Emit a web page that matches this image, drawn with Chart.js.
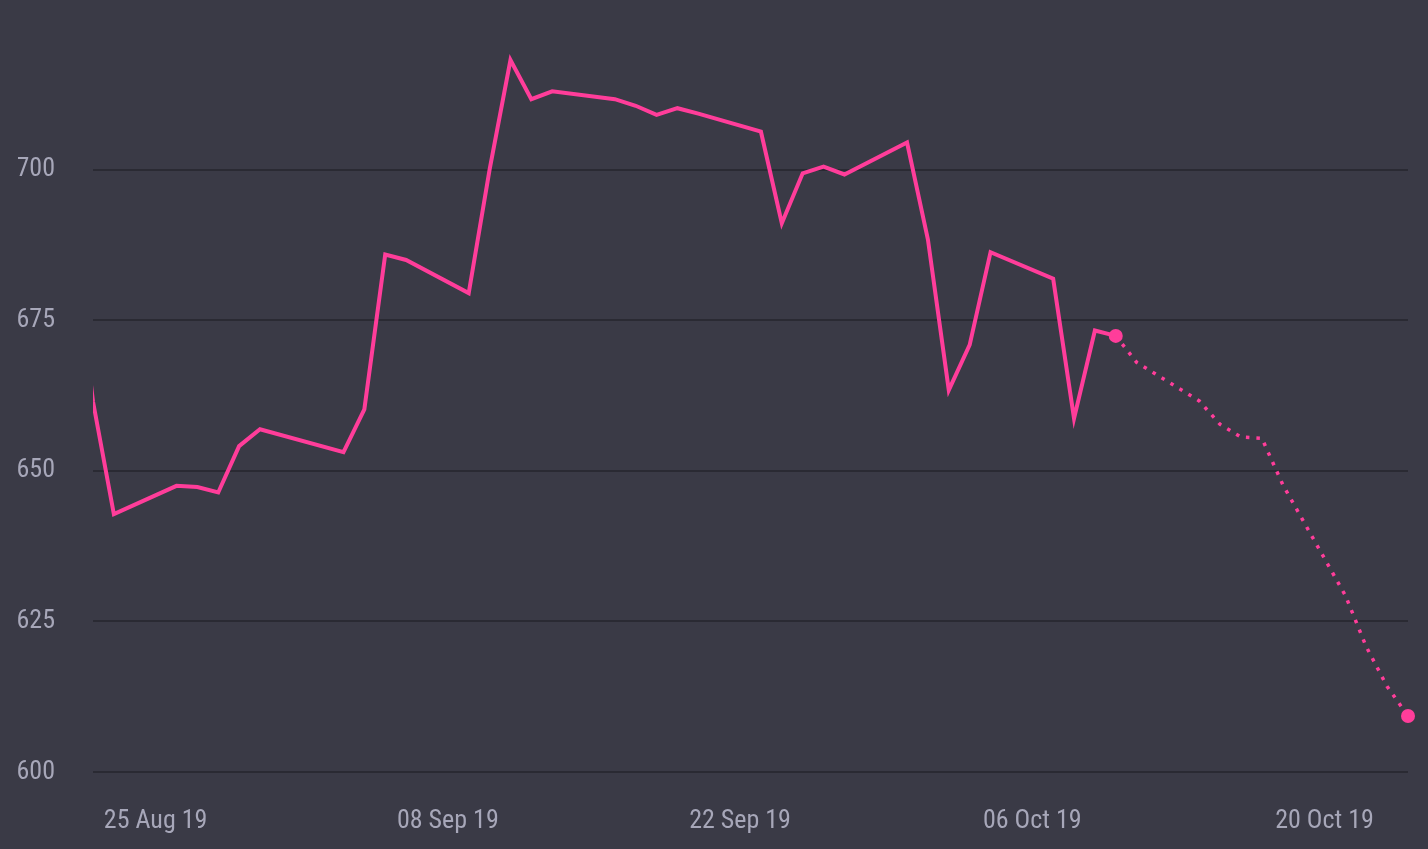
<!DOCTYPE html>
<html>
<head>
<meta charset="utf-8">
<script src="https://cdn.jsdelivr.net/npm/chart.js@4.4.0/dist/chart.umd.min.js"></script>
<style>
  html, body { margin: 0; padding: 0; background: #3a3a46; }
  #wrap { width: 1428px; height: 849px; position: relative; }
</style>
</head>
<body>
<div id="wrap"><canvas id="chart"></canvas></div>
<script>
// day 0 = 22 Aug 19
var histDays   = [-1, 0, 1, 4, 5, 6, 7, 8, 12, 13, 14, 15, 18, 19, 20, 21, 22, 25, 26, 27, 28, 29, 32, 33, 34, 35, 36, 39, 40, 41, 42, 43, 46, 47, 48, 49];
var histValues = [690, 661.5, 642.8, 647.5, 647.3, 646.4, 654.1, 656.9, 653.1, 660.2, 685.9, 685.0, 679.5, 700, 718.2, 711.7, 713.0, 711.7, 710.6, 709.1, 710.2, 709.3, 706.3, 691.1, 699.4, 700.5, 699.2, 704.5, 688.4, 663.4, 670.9, 686.3, 681.9, 658.7, 673.3, 672.4];

var foreDays   = [49, 50, 53, 54, 55, 56, 57, 60, 61, 62, 63];
var foreValues = [672.4, 668.0, 661.6, 657.7, 655.6, 655.4, 647.7, 629.3, 620.8, 614.2, 609.3];

var tickDays   = [3, 17, 31, 45, 59];
var tickLabels = ['25 Aug 19', '08 Sep 19', '22 Sep 19', '06 Oct 19', '20 Oct 19'];
var yTicks     = [600, 625, 650, 675, 700];

var pink = '#ff3d9a';
var labelFont = { family: '"Roboto Condensed", Roboto, sans-serif', size: 26 };

function toPoints(days, vals) {
    var pts = [];
    for (var i = 0; i < days.length; i++) {
        pts.push({x: days[i], y: vals[i]});
    }
    return pts;
}

var chart = new Chart(document.getElementById('chart'), {
    type: 'line',
    data: {
        datasets: [
            {
                label: 'history',
                data: toPoints(histDays, histValues),
                borderColor: pink,
                borderWidth: 4,
                pointRadius: 0,
                tension: 0
            },
            {
                label: 'forecast',
                data: toPoints(foreDays, foreValues),
                borderColor: pink,
                backgroundColor: pink,
                borderWidth: 3.5,
                borderDash: [3.5, 7],
                pointRadius: function(ctx) {
                    return (ctx.dataIndex === 0 || ctx.dataIndex === foreDays.length - 1) ? 7 : 0;
                },
                pointBorderWidth: 0,
                clip: false,
                tension: 0
            }
        ]
    },
    options: {
        responsive: true,
        maintainAspectRatio: false,
        animation: false,
        layout: { padding: { left: 18, right: 20, top: 0, bottom: 14 } },
        plugins: { legend: { display: false }, tooltip: { enabled: false } },
        scales: {
            x: {
                type: 'linear',
                min: 0,
                max: 63,
                afterBuildTicks: function(axis) {
                    axis.ticks = tickDays.map(function(d) { return {value: d}; });
                },
                afterFit: function(axis) {
                    axis.height = 63;
                    axis.paddingLeft = 0;
                    axis.paddingRight = 0;
                },
                ticks: {
                    color: '#a7a7b9',
                    font: labelFont,
                    padding: 34,
                    maxRotation: 0,
                    autoSkip: false,
                    callback: function(value) {
                        return tickLabels[tickDays.indexOf(value)];
                    }
                },
                grid: { display: false, drawTicks: false },
                border: { display: false }
            },
            y: {
                min: 600,
                max: 727.0,
                afterBuildTicks: function(axis) {
                    axis.ticks = yTicks.map(function(v) { return {value: v}; });
                },
                afterFit: function(axis) {
                    axis.width = 75;
                    axis.paddingTop = 0;
                    axis.paddingBottom = 0;
                },
                ticks: {
                    color: '#a7a7b9',
                    font: labelFont,
                    padding: 38
                },
                grid: { color: '#2a2a33', lineWidth: 2, drawTicks: false },
                border: { display: false }
            }
        }
    }
});
</script>
</body>
</html>
